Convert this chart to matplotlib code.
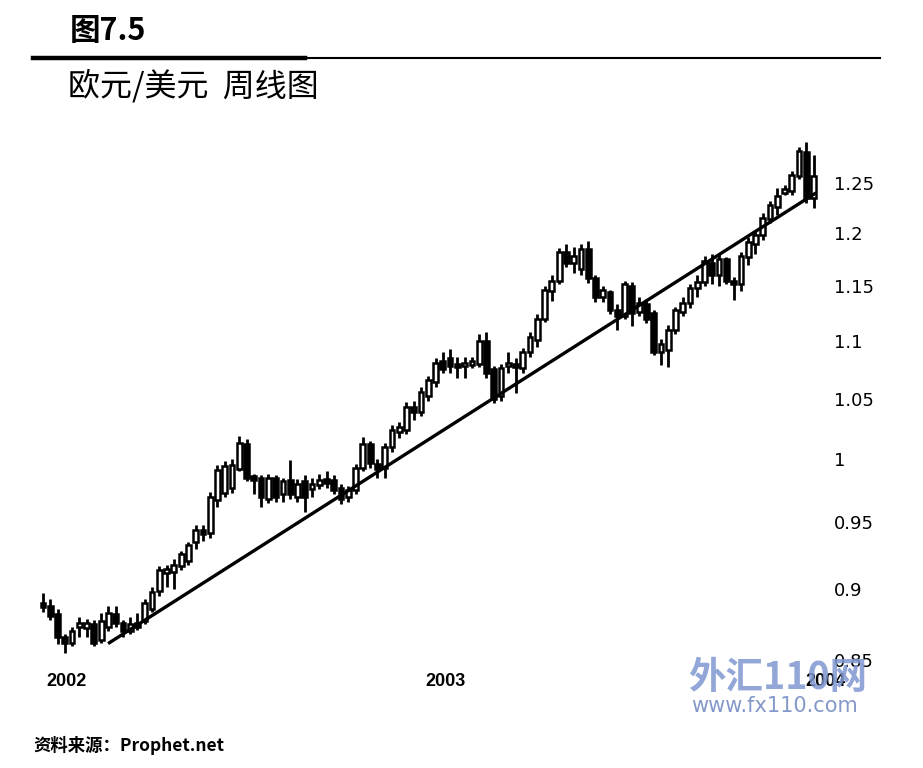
import matplotlib
matplotlib.use("Agg")
import matplotlib.pyplot as plt
import matplotlib.dates as mdates
from matplotlib.lines import Line2D
import pandas as pd

plt.rcParams['font.family'] = ['Noto Sans CJK SC', 'DejaVu Sans']

# weekly EUR/USD candles
opens = [0.890, 0.888, 0.882, 0.866, 0.862, 0.873, 0.872, 0.875, 0.864, 0.873,
         0.882, 0.876, 0.870, 0.876, 0.877, 0.886, 0.899, 0.912, 0.913, 0.917,
         0.921, 0.935, 0.944, 0.942, 0.967, 0.973, 0.977, 0.992, 1.012, 0.985,
         0.985, 0.968, 0.985, 0.972, 0.983, 0.970, 0.982, 0.976, 0.979, 0.984,
         0.983, 0.977, 0.970, 0.975, 0.993, 1.012, 0.996, 0.993, 1.010, 1.022,
         1.024, 1.043, 1.039, 1.052, 1.064, 1.082, 1.085, 1.080, 1.078, 1.079,
         1.080, 1.100, 1.075, 1.052, 1.078, 1.080, 1.076, 1.090, 1.101, 1.120,
         1.145, 1.155, 1.182, 1.172, 1.166, 1.185, 1.157, 1.140, 1.144, 1.128,
         1.122, 1.150, 1.126, 1.133, 1.125, 1.090, 1.092, 1.110, 1.126, 1.134,
         1.148, 1.154, 1.172, 1.160, 1.175, 1.155, 1.152, 1.177, 1.190, 1.198,
         1.214, 1.226, 1.240, 1.242, 1.257, 1.282, 1.235]
highs = [0.897, 0.893, 0.886, 0.868, 0.873, 0.880, 0.879, 0.878, 0.883, 0.888,
         0.888, 0.878, 0.880, 0.883, 0.893, 0.902, 0.917, 0.918, 0.922, 0.928,
         0.935, 0.948, 0.948, 0.974, 0.995, 0.998, 1.000, 1.019, 1.016, 0.988,
         0.987, 0.988, 0.987, 0.985, 0.999, 0.984, 0.987, 0.985, 0.988, 0.990,
         0.987, 0.980, 0.978, 0.996, 1.018, 1.015, 1.000, 1.013, 1.028, 1.030,
         1.047, 1.048, 1.060, 1.069, 1.085, 1.090, 1.093, 1.086, 1.086, 1.086,
         1.106, 1.108, 1.078, 1.080, 1.090, 1.085, 1.094, 1.108, 1.124, 1.150,
         1.160, 1.186, 1.190, 1.187, 1.190, 1.193, 1.160, 1.150, 1.146, 1.133,
         1.155, 1.154, 1.140, 1.138, 1.128, 1.102, 1.114, 1.131, 1.140, 1.152,
         1.160, 1.178, 1.180, 1.180, 1.177, 1.158, 1.182, 1.196, 1.202, 1.220,
         1.232, 1.245, 1.248, 1.262, 1.287, 1.292, 1.278]
lows = [0.884, 0.878, 0.861, 0.855, 0.860, 0.866, 0.866, 0.860, 0.862, 0.870,
        0.873, 0.866, 0.868, 0.871, 0.875, 0.884, 0.895, 0.902, 0.900, 0.914,
        0.918, 0.930, 0.936, 0.938, 0.962, 0.970, 0.973, 0.990, 0.982, 0.972,
        0.962, 0.965, 0.966, 0.966, 0.968, 0.966, 0.958, 0.970, 0.976, 0.977,
        0.972, 0.964, 0.966, 0.972, 0.990, 0.993, 0.985, 0.985, 1.006, 1.017,
        1.020, 1.032, 1.035, 1.048, 1.060, 1.072, 1.072, 1.068, 1.068, 1.076,
        1.077, 1.068, 1.046, 1.048, 1.072, 1.055, 1.072, 1.086, 1.095, 1.117,
        1.136, 1.152, 1.168, 1.162, 1.160, 1.153, 1.135, 1.135, 1.124, 1.110,
        1.120, 1.113, 1.122, 1.116, 1.088, 1.079, 1.077, 1.106, 1.122, 1.130,
        1.140, 1.150, 1.152, 1.150, 1.152, 1.137, 1.145, 1.170, 1.180, 1.194,
        1.210, 1.218, 1.238, 1.238, 1.254, 1.230, 1.225]
closes = [0.887, 0.881, 0.866, 0.862, 0.870, 0.874, 0.876, 0.862, 0.877, 0.883,
          0.876, 0.870, 0.875, 0.873, 0.890, 0.898, 0.914, 0.914, 0.918, 0.926,
          0.933, 0.944, 0.941, 0.970, 0.991, 0.994, 0.995, 1.013, 0.985, 0.983,
          0.970, 0.985, 0.970, 0.982, 0.972, 0.980, 0.970, 0.980, 0.983, 0.981,
          0.975, 0.968, 0.975, 0.993, 1.012, 0.997, 0.992, 1.010, 1.024, 1.026,
          1.043, 1.039, 1.056, 1.066, 1.081, 1.075, 1.078, 1.077, 1.080, 1.081,
          1.100, 1.072, 1.050, 1.076, 1.080, 1.077, 1.090, 1.104, 1.120, 1.146,
          1.155, 1.182, 1.172, 1.178, 1.185, 1.157, 1.140, 1.146, 1.128, 1.122,
          1.152, 1.125, 1.134, 1.120, 1.090, 1.097, 1.110, 1.128, 1.134, 1.148,
          1.154, 1.173, 1.160, 1.175, 1.155, 1.152, 1.178, 1.192, 1.198, 1.215,
          1.228, 1.237, 1.244, 1.258, 1.283, 1.235, 1.257]

first_week = '2001-12-09'
trend_dates = ['2002-02-11', '2003-12-22']
trend_values = [0.862, 1.239]

ytick_values = [0.85, 0.9, 0.95, 1.0, 1.05, 1.1, 1.15, 1.2, 1.25]
ytick_labels = ['0.85', '0.9', '0.95', '1', '1.05', '1.1', '1.15', '1.2', '1.25']
year_labels = ['2002', '2003', '2004']

dates = pd.date_range(first_week, periods=len(closes), freq='7D')
x = mdates.date2num(dates)

fig = plt.figure(figsize=(9.23, 7.68), dpi=100)
ax = fig.add_axes([38 / 923, 103 / 768, 792 / 923, 525 / 768])

up = [c >= o for o, c in zip(opens, closes)]
ax.vlines(x, lows, highs, color='black', linewidth=2.0, zorder=2)
body_low = [min(o, c) for o, c in zip(opens, closes)]
body_h = [max(abs(c - o), 0.003) for o, c in zip(opens, closes)]
ax.bar(x, body_h, bottom=body_low, width=4.6,
       color=['white' if u else 'black' for u in up],
       edgecolor='black', linewidth=1.8, zorder=3)

ax.plot(mdates.date2num(pd.to_datetime(trend_dates)), trend_values,
        color='black', linewidth=2.4, zorder=4)

ax.set_yscale('log')
ax.set_ylim(0.8466, 1.294)
ax.set_yticks(ytick_values, ytick_labels)
ax.minorticks_off()
ax.yaxis.tick_right()
ax.tick_params(axis='y', length=0, pad=3, labelsize=13)
for lab in ax.get_yticklabels():
    lab.set_family('DejaVu Sans')

x0 = x[0]
ax.set_xlim(x0 - 4.8, x0 + 757.8)
ax.set_xticks(mdates.date2num(pd.to_datetime([y + '-01-01' for y in year_labels])), year_labels)
ax.tick_params(axis='x', length=0, pad=6, labelsize=13)
for lab in ax.get_xticklabels():
    lab.set_family('Liberation Sans')
    lab.set_fontweight('bold')

for s in ax.spines.values():
    s.set_visible(False)

fig.text(70 / 923, 1 - 31 / 768, '图7.5', fontsize=22, fontweight='bold', va='center', ha='left')
fig.lines.append(Line2D([33 / 923, 305 / 923], [1 - 58 / 768] * 2, color='black', linewidth=3.2, transform=fig.transFigure))
fig.lines.append(Line2D([305 / 923, 880 / 923], [1 - 58 / 768] * 2, color='black', linewidth=1.5, transform=fig.transFigure))
fig.text(68 / 923, 1 - 86 / 768, '欧元/美元  周线图', fontsize=23, va='center', ha='left')
fig.text(33 / 923, 1 - 745 / 768, '资料来源：Prophet.net', fontsize=12.5, fontweight='bold', va='center', ha='left')

# watermark
fig.text(778 / 923, 1 - 678 / 768, '外汇110网', fontsize=27, fontweight='bold', style='italic',
         color='#7f98d0', alpha=0.85, va='center', ha='center', zorder=10)
fig.text(775 / 923, 1 - 706 / 768, 'www.fx110.com', fontsize=15, color='#6f87c0', alpha=0.85,
         va='center', ha='center', family='DejaVu Sans', zorder=10)

fig.savefig('out.png', dpi=100)
